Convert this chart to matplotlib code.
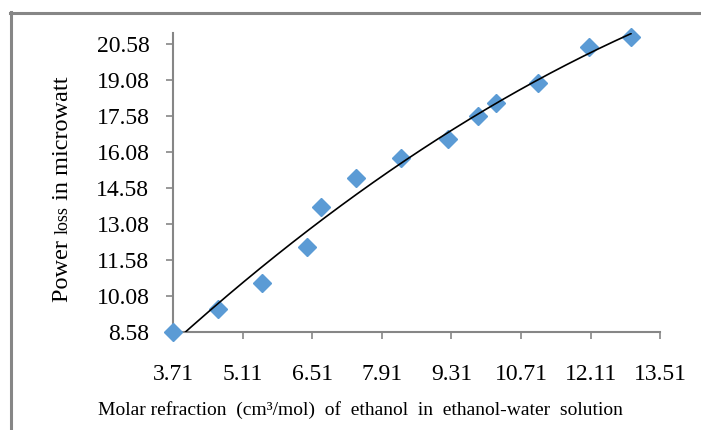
import numpy as np
import matplotlib
matplotlib.use('Agg')
import matplotlib.pyplot as plt
from matplotlib.lines import Line2D

plt.rcParams['font.family'] = 'Liberation Serif'

# molar refraction of ethanol (cm3/mol) and measured power loss (microwatt)
molar_refraction = [3.71, 4.62, 5.50, 6.41, 6.68, 7.40, 8.30, 9.24, 9.85, 10.20, 11.06, 12.08, 12.92]
power_loss = [8.58, 9.54, 10.65, 12.15, 13.80, 14.99, 15.86, 16.63, 17.59, 18.15, 18.96, 20.48, 20.88]

x_ticks = [3.71, 5.11, 6.51, 7.91, 9.31, 10.71, 12.11, 13.51]
y_ticks = [8.58, 10.08, 11.58, 13.08, 14.58, 16.08, 17.58, 19.08, 20.58]

grey = '#868686'
blue = '#5B9BD5'

fig = plt.figure(figsize=(7.01, 4.30), dpi=100)
ax = fig.add_axes([173/701, 1-332.3/430, (660.3-173)/701, (332.3-33.3)/430])

ax.plot(molar_refraction, power_loss, linestyle='none', marker='D',
        markersize=9, color=blue, zorder=3, clip_on=False)

# second order polynomial trend line
coef = np.polyfit(molar_refraction, power_loss, 2)
xs = np.linspace(molar_refraction[0], molar_refraction[-1], 200)
ax.plot(xs, np.polyval(coef, xs), color='black', linewidth=1.2, zorder=4)

ax.set_xlim(3.71, 13.51)
ax.set_ylim(8.58, 21.04)
ax.set_xticks(x_ticks)
ax.set_xticklabels(['%.2f' % v for v in x_ticks])
ax.set_yticks(y_ticks)
ax.set_yticklabels(['%.2f' % v for v in y_ticks])

for side in ['top', 'right']:
    ax.spines[side].set_visible(False)
for side in ['left', 'bottom']:
    ax.spines[side].set_color(grey)
    ax.spines[side].set_linewidth(1.5)
ax.tick_params(axis='x', direction='out', length=5, width=1.2, color=grey,
               labelsize=17, pad=18)
ax.tick_params(axis='y', direction='out', length=5, width=1.2, color=grey,
               labelsize=17, pad=12)

fig.text(360/701, 1-410/430, 'Molar refraction  (cm³/mol)  of  ethanol  in  ethanol-water  solution',
         ha='center', va='center', fontsize=14)

# y label with a smaller "loss"
fig.canvas.draw()
r = fig.canvas.get_renderer()
x0 = 68/701
y = 302
for txt, size in [('Power ', 17.5), ('loss', 13), (' in microwatt', 17.5)]:
    t = fig.text(x0, 1-y/430, txt, rotation=90, rotation_mode='anchor',
                 ha='left', va='baseline', fontsize=size)
    bb = t.get_window_extent(r)
    y -= bb.height

# chart frame
fig.add_artist(Line2D([10.5/701, 10.5/701], [0, 1-12/430], color=grey, linewidth=2.2))
fig.add_artist(Line2D([10/701, 1], [1-12.5/430, 1-12.5/430], color=grey, linewidth=2.2))

fig.savefig('out.png', dpi=100)
